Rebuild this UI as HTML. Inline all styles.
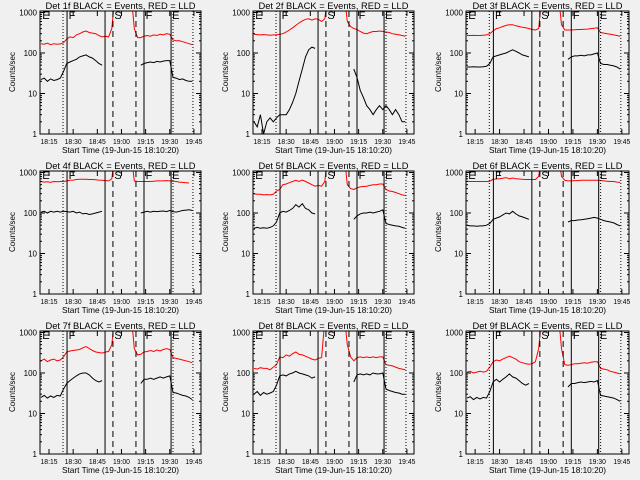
<!DOCTYPE html>
<html><head><meta charset="utf-8"><style>
body{margin:0;background:#f0f0f0;}
svg{display:block;font-family:"Liberation Sans",sans-serif;}
</style></head><body>
<svg id="c" width="640" height="480" viewBox="0 0 640 480"></svg>
<script>
const detectorNames=["1f","2f","3f","4f","5f","6f","7f","8f","9f"];
const timeMinutes=[0,2,4,6,8,10,12,14,16,18,20,22,24,26,28,30,32,34,36,38,40,42,44,46,48,50,52,54,56,58,60,62,64,66,68,70,72,74,76,78,80,82,84,86,88,90,92,94];
const tickMinutes=[5,20,35,50,65,80,95];
const tickLabels=["18:15","18:30","18:45","19:00","19:15","19:30","19:45"];
const yTicks=[1,10,100,1000];
const yTickLabels=["1","10","100","1000"];
const markerTimes=[13.7,16.2,39.8,44.7,59.0,64,80.8,82,94.4];
const markerStyles=["dot","solid","solid","dash","dash","solid","solid","dot","dot"];
const letterTimes=[0.8,17.2,45.6,65,81.5];
const letterLabels=["E","F","S","F","E"];
const N=null;
const gap=[N,N,N,N,N,N,N,N,N,N,N];
const sp=[3000,3000,3000,3000,3000,3000];
const black1=[22,24,20,23,21,22,24,35,55,60,65,70,80,85,90,80,75,65,55,50].concat(gap,[50,55,58,60,58,62,60,63,65,65,25,24,22,23,21,20,20]);
const red1=[170,165,175,160,170,165,168,180,220,250,240,280,300,330,350,320,310,300,270,250,260,250,400].concat(sp,[400,240,240,260,270,260,280,270,290,280,300,290,210,200,200,190,180,170,160]);
const black2=[2,1.5,3,1,2,2.5,2,2.5,3,3,3,4,6,10,20,40,80,120,140,130].concat(gap,[40,25,12,8,5,4,3,4,5,4,5,4,3,4,3,2,2]);
const red2=[290,285,280,285,280,275,280,280,290,300,330,370,420,480,550,620,680,700,650,700,680,600,700].concat(sp,[600,450,400,380,340,310,300,320,340,340,350,340,330,320,300,290,280,270,260]);
const black3=[45,45,46,45,45,46,47,55,80,85,90,95,100,110,120,110,100,90,85,80].concat(gap,[70,80,85,85,88,85,90,90,95,100,55,52,52,50,48,45,40]);
const red3=[270,270,272,270,270,275,280,300,350,400,420,450,480,500,500,470,450,430,420,400,380,370,400].concat(sp,[500,370,370,370,375,380,380,385,390,400,410,420,320,310,300,290,280,270,260]);
const black4=[105,110,100,110,105,110,105,110,108,105,110,100,105,95,98,92,95,100,105,110].concat(gap,[100,105,110,105,110,108,110,112,108,115,108,105,110,115,118,120,115]);
const red4=[600,580,590,570,600,590,600,600,620,640,650,670,680,680,680,670,670,660,650,640,630,620,700].concat(sp,[620,600,600,600,600,600,610,620,620,620,630,620,610,600,580,570,560,550]);
const black5=[42,44,42,43,42,44,48,60,100,110,105,115,130,160,140,170,130,120,100,95].concat(gap,[70,85,95,100,100,105,100,105,110,120,55,52,50,48,47,44,42]);
const red5=[300,290,290,280,285,280,290,350,380,500,520,560,600,640,600,650,600,550,500,460,480,460,600].concat(sp,[500,400,380,420,440,450,460,480,500,500,520,520,380,350,340,320,300,280,270]);
const black6=[50,48,48,47,48,48,50,55,70,75,80,90,100,95,110,95,85,80,75,70].concat(gap,[60,65,65,67,68,70,72,75,78,75,70,65,62,60,57,52,48]);
const red6=[610,600,600,600,600,600,600,610,680,690,700,720,750,700,730,700,690,680,670,670,670,670,800].concat(sp,[800,640,620,620,630,630,640,640,640,640,640,640,630,620,610,600,600,580,570]);
const black7=[25,28,24,27,25,28,27,40,55,65,75,85,95,100,100,90,75,65,60,65].concat(gap,[55,70,70,75,70,75,80,75,80,85,33,32,30,28,27,25,22]);
const red7=[200,220,190,210,220,200,210,250,330,350,360,370,380,420,450,400,360,330,320,310,330,340,500].concat(sp,[400,280,290,330,340,360,340,370,350,380,400,380,240,230,220,210,200,190,180]);
const black8=[30,35,28,33,30,32,35,50,85,90,85,95,100,110,100,95,90,85,75,80].concat(gap,[60,90,95,90,95,90,100,95,95,100,40,37,35,33,32,30,30]);
const red8=[130,125,135,130,130,120,140,160,250,240,280,260,300,330,290,280,260,240,220,210,230,240,2000].concat(sp,[500,250,200,240,250,240,250,240,250,240,250,250,160,155,150,140,130,125,120]);
const black9=[24,26,22,25,23,25,24,35,60,70,60,70,80,95,80,75,65,55,50,55].concat(gap,[45,55,55,58,60,58,60,62,60,65,28,27,26,25,24,22,20]);
const red9=[105,110,100,105,110,105,110,140,190,210,200,220,240,260,240,220,190,180,170,165,170,190,400].concat(sp,[400,160,155,160,170,170,175,180,175,185,190,190,130,125,120,110,105,100,95]);
const blackSeries=[black1,black2,black3,black4,black5,black6,black7,black8,black9];
const redSeries=[red1,red2,red3,red4,red5,red6,red7,red8,red9];

const NS="http://www.w3.org/2000/svg";
const svg=document.getElementById("c");
function mk(tag,attrs,parent){const e=document.createElementNS(NS,tag);for(const k in attrs)e.setAttribute(k,attrs[k]);(parent||svg).appendChild(e);return e;}
const XMIN=-0.6,XMAX=99.4;
for(let p=0;p<9;p++){
  const col=p%3,row=Math.floor(p/3);
  const ox=col*213,oy=row*160;
  const L=ox+40,R=ox+(col===2?203:201),T=oy+11,B=oy+134;
  const xs=t=>L+(t-XMIN)/(XMAX-XMIN)*(R-L);
  const ys=v=>B-Math.log10(v)*((B-12.5-oy)/3);
  const g=mk("g",{});
  
  
  const clipId="cl"+p;
  const cp=mk("clipPath",{id:clipId},g);mk("rect",{x:L,y:T,width:R-L,height:B-T},cp);
  [[redSeries[p],"#ff0000","red-lld-line"],[blackSeries[p],"#000","black-events-line"]].forEach(([arr,clr,nm])=>{
    let segs=[],cur=[];
    arr.forEach((v,i)=>{if(v==null){if(cur.length)segs.push(cur);cur=[];}else cur.push(xs(timeMinutes[i]).toFixed(1)+","+ys(v).toFixed(1));});
    if(cur.length)segs.push(cur);
    segs.forEach(s=>{const pl=mk("polyline",{points:s.join(" "),fill:"none",stroke:clr,"stroke-width":1,"clip-path":"url(#"+clipId+")"},g);
      
      });
  });
  markerTimes.forEach((t,i)=>{const x=xs(t);const st=markerStyles[i];
    const ln=mk("line",{x1:x,x2:x,y1:T,y2:B,stroke:"#000","stroke-width":1,"stroke-dasharray":st==="dot"?"1,2":st==="dash"?"6,4":"none"},g);
    
    });
  letterTimes.forEach((t,i)=>{const tx=mk("text",{x:xs(t),y:T+8,"font-size":11},g);tx.textContent=letterLabels[i];
    
    });
  const bx=mk("rect",{x:L,y:T,width:R-L,height:B-T,fill:"none",stroke:"#000","stroke-width":1},g);
  
  
  yTicks.forEach((v,i)=>{const y=ys(v);
    mk("line",{x1:L,x2:L+5,y1:y,y2:y,stroke:"#000"},g);mk("line",{x1:R-5,x2:R,y1:y,y2:y,stroke:"#000"},g);
    const tx=mk("text",{x:L-3,y:y+3,"font-size":8,"text-anchor":"end"},g);tx.textContent=yTickLabels[i];
    
    
    if(i<3)for(let m=2;m<10;m++){const ym=ys(v*m);mk("line",{x1:L,x2:L+2,y1:ym,y2:ym,stroke:"#000"},g);mk("line",{x1:R-2,x2:R,y1:ym,y2:ym,stroke:"#000"},g);}
  });
  tickMinutes.forEach((t,i)=>{const x=xs(t);
    mk("line",{x1:x,x2:x,y1:B,y2:B-5,stroke:"#000"},g);mk("line",{x1:x,x2:x,y1:T,y2:T+5,stroke:"#000"},g);
    const tx=mk("text",{x:x,y:B+10,"font-size":7.5,"text-anchor":"middle",textLength:17,lengthAdjust:"spacingAndGlyphs"},g);tx.textContent=tickLabels[i];
    
    });
  const ti=mk("text",{x:(L+R)/2,y:oy+9,"font-size":9.5,"text-anchor":"middle",textLength:150,lengthAdjust:"spacingAndGlyphs"},g);ti.textContent="Det "+detectorNames[p]+" BLACK = Events, RED = LLD";
  
  
  const xl=mk("text",{x:(L+R)/2,y:oy+153,"font-size":8.5,"text-anchor":"middle",textLength:117,lengthAdjust:"spacingAndGlyphs"},g);xl.textContent="Start Time (19-Jun-15 18:10:20)";
  
  
  const yl=mk("text",{x:0,y:0,"font-size":8,"text-anchor":"middle",transform:"translate("+(ox+15)+","+(oy+72)+") rotate(-90)"},g);yl.textContent="Counts/sec";
  
  
}
</script>
</body></html>
